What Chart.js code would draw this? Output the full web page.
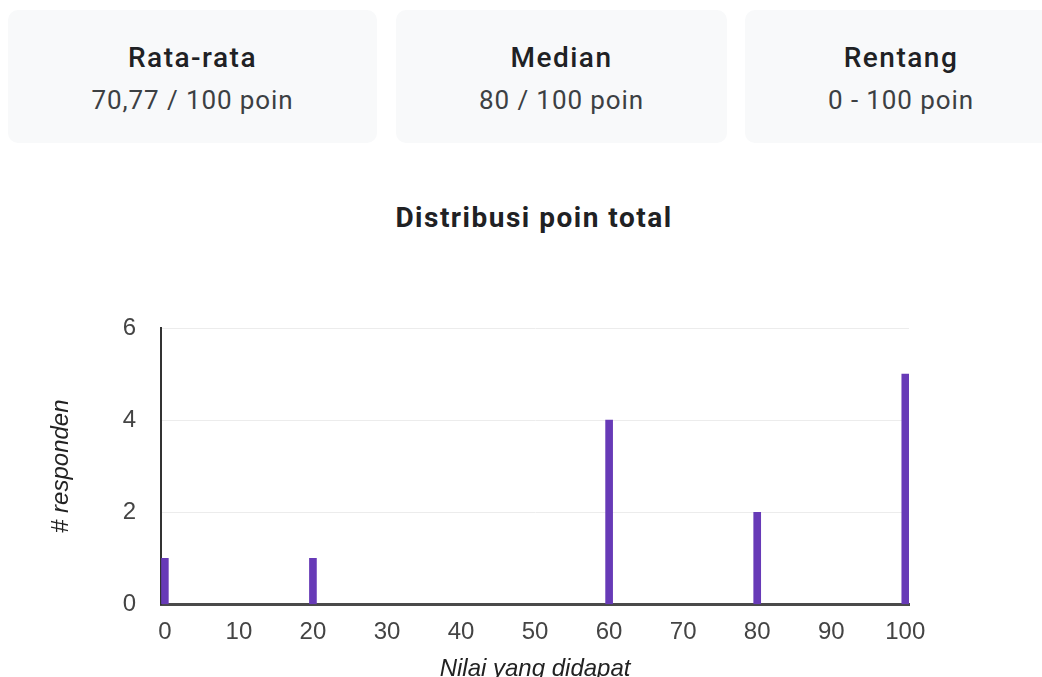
<!DOCTYPE html>
<html>
<head>
<meta charset="utf-8">
<script src="https://cdn.jsdelivr.net/npm/chart.js@4.4.0/dist/chart.umd.min.js"></script>
<style>
  html, body { margin: 0; padding: 0; background: #fff; }
  body { width: 1042px; height: 677px; overflow: hidden; position: relative; font-family: Roboto, Arial, sans-serif; }
  .kartu { position: absolute; top: 10px; height: 133px; background: #f8f9fa; border-radius: 10px; text-align: center; }
  .kartu .judul { position: absolute; left: 0; right: 0; top: 31px; line-height: 34px; font-size: 28px; font-weight: 500; letter-spacing: 1.5px; color: #202124; }
  .kartu .nilai { position: absolute; left: 0; right: 0; top: 74px; line-height: 32px; font-size: 26px; letter-spacing: 0.9px; color: #3c4043; }
  #judulGrafik { position: absolute; left: 284px; width: 500px; top: 201px; line-height: 34px; text-align: center; font-size: 28px; font-weight: 700; letter-spacing: 1.5px; color: #202124; }
  #wadah { position: absolute; left: 0; top: 180px; width: 1042px; height: 508px; }
</style>
</head>
<body>
<div class="kartu" style="left:8px;width:369px"><div class="judul">Rata-rata</div><div class="nilai">70,77 / 100 poin</div></div>
<div class="kartu" style="left:396px;width:331px"><div class="judul">Median</div><div class="nilai">80 / 100 poin</div></div>
<div class="kartu" style="left:745px;width:312px"><div class="judul">Rentang</div><div class="nilai">0 - 100 poin</div></div>
<div id="judulGrafik">Distribusi poin total</div>
<div id="wadah"><canvas id="grafik"></canvas></div>
<script>
const poin = [0, 20, 60, 80, 100]
const responden = [1, 1, 4, 2, 5]
const tickX = [0, 10, 20, 30, 40, 50, 60, 70, 80, 90, 100]
const tickY = [0, 2, 4, 6]

const ungu = '#673ab7'

const config = {
  type: 'bar',
  data: {
    datasets: [{
      label: '# responden',
      data: poin.map((p, i) => ({ x: p, y: responden[i] })),
      backgroundColor: ungu,
      barThickness: 7
    }]
  },
  options: {
    responsive: true,
    maintainAspectRatio: false,
    animation: false,
    layout: { padding: { left: 47, right: 133, top: 148, bottom: 1 } },
    plugins: {
      legend: { display: false },
      tooltip: { enabled: false }
    },
    scales: {
      x: {
        type: 'linear',
        min: -0.5,
        max: 100.5,
        offset: false,
        afterBuildTicks: (scale) => { scale.ticks = tickX.map(v => ({ value: v })) },
        grid: { display: false, drawTicks: false, offset: false },
        border: { color: '#4a4a4a', width: 3 },
        ticks: { color: '#444', padding: 14, font: { family: 'Arial', size: 24 }, autoSkip: false, maxRotation: 0 },
        title: { display: true, text: 'Nilai yang didapat', color: '#222', font: { family: 'Arial', size: 24, style: 'italic' }, padding: { top: -6, bottom: 3 } }
      },
      y: {
        min: 0,
        max: 6,
        afterBuildTicks: (scale) => { scale.ticks = tickY.map(v => ({ value: v })) },
        grid: { color: '#ececec', drawTicks: false },
        border: { color: '#333', width: 2 },
        ticks: { color: '#444', padding: 25, font: { family: 'Arial', size: 24 } },
        title: { display: true, text: '# responden', color: '#222', font: { family: 'Arial', size: 24, style: 'italic' }, padding: { top: 0, bottom: 22 } }
      }
    }
  }
}

new Chart(document.getElementById('grafik'), config)
</script>
</body>
</html>
